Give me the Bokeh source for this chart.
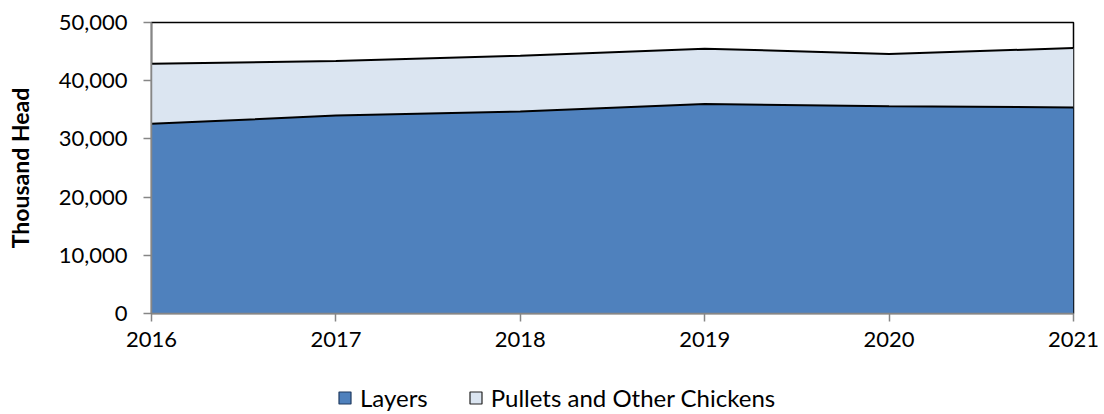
from bokeh.plotting import figure
from bokeh.layouts import column
from bokeh.models import ColumnDataSource, Legend, LegendItem, NumeralTickFormatter, FixedTicker, Range1d
from bokeh.embed import file_html
from bokeh.resources import INLINE

years = [2016, 2017, 2018, 2019, 2020, 2021]
layers = [32600, 34000, 34700, 36000, 35600, 35400]
pullets = [10300, 9400, 9600, 9500, 9000, 10200]
series_names = ["Layers", "Pullets and Other Chickens"]
colors = ["#4F81BD", "#DBE5F1"]
y_ticks = [0, 10000, 20000, 30000, 40000, 50000]

totals = [a + b for a, b in zip(layers, pullets)]
src = ColumnDataSource(dict(x=years, layers=layers, pullets=pullets, total=totals))

FONT = "Lato"
p = figure(width=1104, height=366, output_backend="svg", toolbar_location=None,
           x_range=Range1d(2016, 2021), y_range=Range1d(0, 50000),
           min_border_left=151, min_border_right=31, min_border_top=22, min_border_bottom=53)
p.grid.visible = False
p.outline_line_color = "black"
p.outline_line_width = 1.5

p.varea_stack(["layers", "pullets"], x="x", color=colors, source=src)
p.line("x", "layers", source=src, color="black", line_width=2)
p.line("x", "total", source=src, color="black", line_width=2)

p.xaxis.ticker = FixedTicker(ticks=years)
p.yaxis.ticker = FixedTicker(ticks=y_ticks)
p.yaxis.formatter = NumeralTickFormatter(format="0,0")
for ax in (p.xaxis, p.yaxis):
    ax.axis_line_color = "#868686"
    ax.axis_line_width = 1.5
    ax.major_tick_line_color = "#868686"
    ax.major_tick_line_width = 1.5
    ax.major_tick_in = 0
    ax.major_tick_out = 8
    ax.minor_tick_line_color = None
    ax.major_label_text_font = FONT
    ax.major_label_text_font_size = "22px"
    ax.major_label_text_color = "black"
p.xaxis.major_label_standoff = 10
p.yaxis.major_label_standoff = 16
p.yaxis.axis_label = "Thousand Head"
p.yaxis.axis_label_text_font = FONT
p.yaxis.axis_label_text_font_style = "bold"
p.yaxis.axis_label_text_font_size = "23px"
p.yaxis.axis_label_text_color = "black"
p.yaxis.axis_label_standoff = 22

# legend strip below the chart
lg = figure(width=1104, height=48, output_backend="svg", toolbar_location=None,
            x_range=Range1d(0, 1), y_range=Range1d(0, 1),
            min_border_left=0, min_border_right=0, min_border_top=0, min_border_bottom=0)
lg.axis.visible = False
lg.grid.visible = False
lg.outline_line_color = None
r1 = lg.quad(left=[-6], right=[-5], bottom=[-6], top=[-5], fill_color=colors[0],
             line_color="#1F3A60", line_width=1.2)
r2 = lg.quad(left=[-6], right=[-5], bottom=[-6], top=[-5], fill_color=colors[1],
             line_color="#222222", line_width=1.2)
legend = Legend(items=[LegendItem(label=series_names[0], renderers=[r1]),
                       LegendItem(label=series_names[1], renderers=[r2])],
                orientation="horizontal", location=(186, 2),
                label_text_font=FONT, label_text_font_size="24px", label_text_color="black",
                glyph_width=15, glyph_height=15, spacing=40, label_standoff=8,
                border_line_color=None, background_fill_alpha=0, margin=0, padding=0)
lg.add_layout(legend, "center")

layout = column(p, lg, spacing=0)
open("out.html", "w").write(file_html(layout, INLINE))
